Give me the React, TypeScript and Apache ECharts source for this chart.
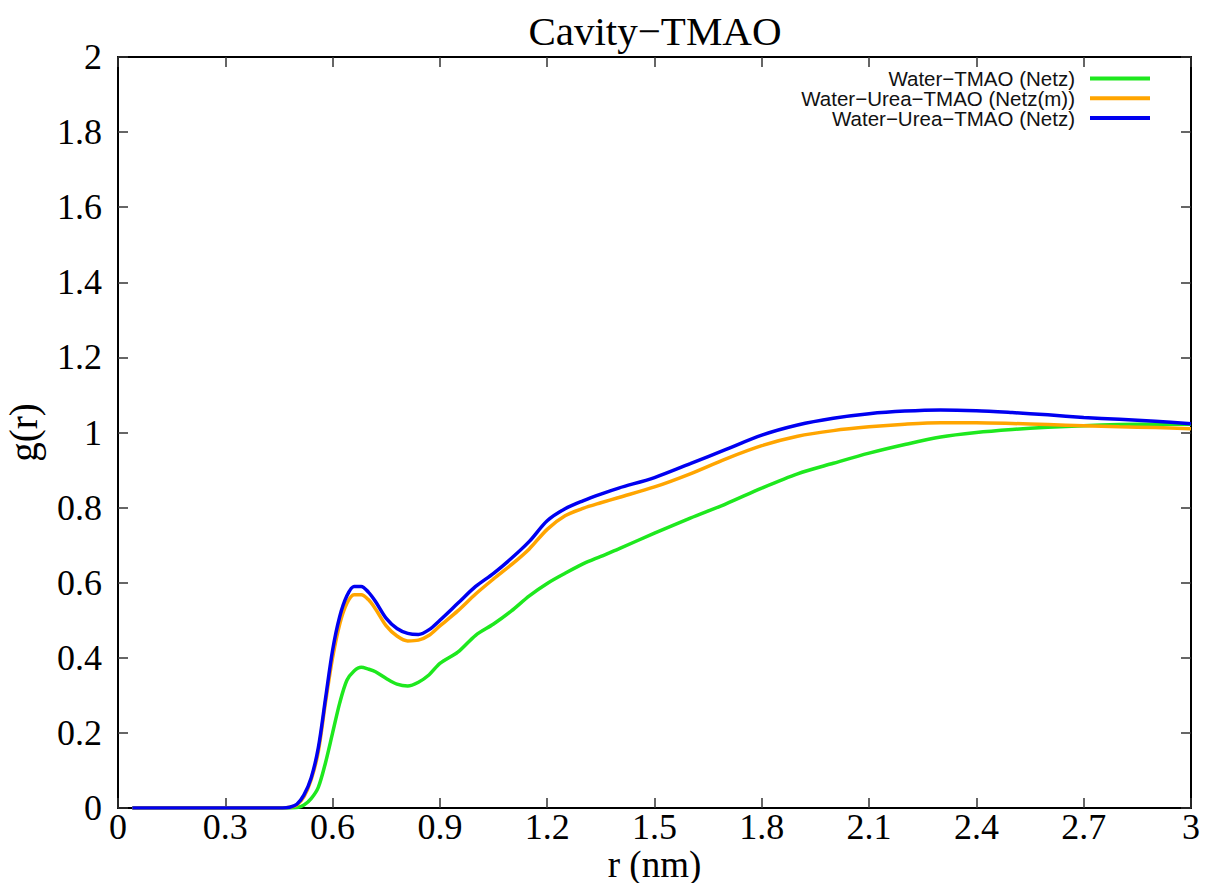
import React, { useEffect, useRef } from "react";
import * as echarts from "echarts";

const rValues = [0.04, 0.1, 0.2, 0.3, 0.4, 0.46, 0.48, 0.5, 0.52, 0.54, 0.56, 0.58, 0.6, 0.62, 0.64, 0.66, 0.68, 0.7, 0.72, 0.75, 0.78, 0.81, 0.84, 0.87, 0.9, 0.95, 1.0, 1.05, 1.1, 1.15, 1.2, 1.25, 1.3, 1.35, 1.4, 1.5, 1.6, 1.7, 1.8, 1.9, 2.0, 2.1, 2.2, 2.3, 2.4, 2.5, 2.6, 2.7, 2.8, 2.9, 3.0];

const waterTmao = [0, 0, 0, 0, 0, 0, 0, 0.001, 0.008, 0.025, 0.055, 0.12, 0.2, 0.28, 0.34, 0.365, 0.375, 0.37, 0.363, 0.345, 0.33, 0.325, 0.335, 0.355, 0.385, 0.415, 0.46, 0.49, 0.525, 0.565, 0.598, 0.625, 0.65, 0.67, 0.69, 0.732, 0.772, 0.81, 0.852, 0.89, 0.918, 0.945, 0.968, 0.988, 1.0, 1.008, 1.014, 1.018, 1.021, 1.022, 1.022];

const waterUreaTmaoM = [0, 0, 0, 0, 0, 0, 0.002, 0.008, 0.03, 0.075, 0.15, 0.28, 0.4, 0.49, 0.545, 0.568, 0.568, 0.555, 0.53, 0.485, 0.458, 0.445, 0.447, 0.46, 0.485, 0.525, 0.57, 0.61, 0.648, 0.69, 0.742, 0.778, 0.798, 0.813, 0.827, 0.855, 0.89, 0.93, 0.965, 0.99, 1.005, 1.015, 1.022, 1.026, 1.026, 1.024, 1.021, 1.018, 1.015, 1.013, 1.01];

const waterUreaTmao = [0, 0, 0, 0, 0, 0, 0.002, 0.01, 0.035, 0.08, 0.16, 0.29, 0.42, 0.51, 0.565, 0.59, 0.59, 0.575, 0.55, 0.505, 0.478, 0.465, 0.462, 0.475, 0.5, 0.545, 0.59, 0.625, 0.665, 0.71, 0.765, 0.797, 0.818, 0.836, 0.852, 0.88, 0.917, 0.955, 0.993, 1.02, 1.038, 1.05, 1.057, 1.06, 1.058, 1.053, 1.047, 1.04, 1.035, 1.03, 1.023];

const seriesNames = ["Water\u2212TMAO (Netz)", "Water\u2212Urea\u2212TMAO (Netz(m))", "Water\u2212Urea\u2212TMAO (Netz)"];
const seriesColors = ["#1ee81e", "#ffa500", "#0000f0"];

const serif = "'Liberation Serif', 'Times New Roman', serif";
const sans = "'Liberation Sans', Arial, sans-serif";

function fmt(v: number) {
  return String(parseFloat(v.toFixed(1)));
}

const mkLine = () => ({ show: true, onZero: false, lineStyle: { color: "#000", width: 2 } });
const mkTick = () => ({ show: true, inside: true, length: 10, lineStyle: { color: "#333", width: 1.5 } });

export default function App() {
  const ref = useRef<HTMLDivElement>(null);
  useEffect(() => {
    if (!ref.current) return;
    const chart = echarts.init(ref.current, null, { renderer: "svg" });
    const datasets = [waterTmao, waterUreaTmaoM, waterUreaTmao];
    chart.setOption({
      animation: false,
      backgroundColor: "#fff",
      title: {
        text: "Cavity\u2212TMAO",
        left: 650,
        top: 5,
        textAlign: "center",
        textStyle: { fontFamily: serif, fontSize: 41, fontWeight: "normal", color: "#000" },
      },
      legend: {
        orient: "vertical",
        right: 55,
        top: 63,
        align: "right",
        icon: "rect",
        itemWidth: 60,
        itemHeight: 4,
        itemGap: -1.2,
        textStyle: { fontFamily: sans, fontSize: 20.5, lineHeight: 18, color: "#111", padding: [0, 10, 0, 0] },
        data: seriesNames,
      },
      grid: { left: 118, right: 19, top: 57, bottom: 75, containLabel: false, outerBoundsMode: "none" },
      xAxis: [
        {
          type: "value",
          min: 0,
          max: 3,
          interval: 0.3,
          name: "r (nm)",
          nameLocation: "middle",
          nameGap: 38,
          nameMoveOverlap: false,
          nameTextStyle: { fontFamily: serif, fontSize: 37, lineHeight: 36, color: "#000", verticalAlign: "top" },
          axisLine: mkLine(),
          axisTick: mkTick(),
          splitLine: { show: false },
          axisLabel: { fontFamily: serif, fontSize: 36, lineHeight: 34, color: "#000", margin: 2, formatter: fmt },
        },
        {
          type: "value",
          position: "top",
          min: 0,
          max: 3,
          interval: 0.3,
          axisLine: mkLine(),
          axisTick: mkTick(),
          splitLine: { show: false },
          axisLabel: { show: false },
        },
      ],
      yAxis: [
        {
          type: "value",
          min: 0,
          max: 2,
          interval: 0.2,
          name: "g(r)",
          nameLocation: "middle",
          nameGap: 75,
          nameMoveOverlap: false,
          nameTextStyle: { fontFamily: serif, fontSize: 39, color: "#000" },
          axisLine: mkLine(),
          axisTick: mkTick(),
          splitLine: { show: false },
          axisLabel: { fontFamily: serif, fontSize: 36, color: "#000", margin: 16, formatter: fmt },
        },
        {
          type: "value",
          position: "right",
          min: 0,
          max: 2,
          interval: 0.2,
          axisLine: mkLine(),
          axisTick: mkTick(),
          splitLine: { show: false },
          axisLabel: { show: false },
        },
      ],
      series: datasets.map((vals, i) => ({
        name: seriesNames[i],
        type: "line",
        xAxisIndex: 0,
        yAxisIndex: 0,
        data: rValues.map((r, j) => [r, vals[j]]),
        showSymbol: false,
        smooth: 0.3,
        lineStyle: { color: seriesColors[i], width: 3.5 },
        itemStyle: { color: seriesColors[i] },
      })),
    });
    return () => chart.dispose();
  }, []);
  return <div ref={ref} style={{ width: 1210, height: 883, position: "fixed", left: 0, top: 0 }} />;
}
